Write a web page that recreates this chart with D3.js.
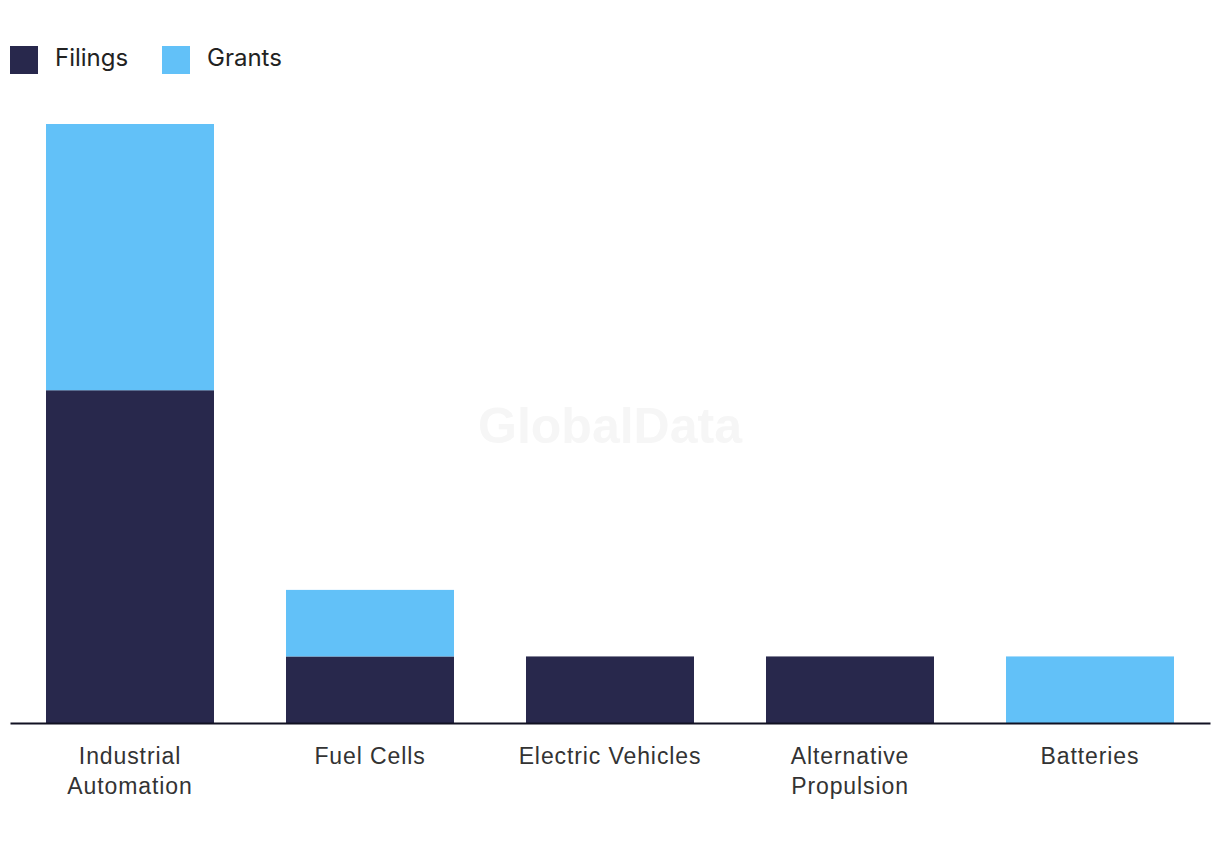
<!DOCTYPE html>
<html><head><meta charset="utf-8">
<script src="https://cdn.jsdelivr.net/npm/d3@7"></script>
<style>body{margin:0;background:#fff;} svg{display:block;font-family:Inter, "Noto Sans", sans-serif;}</style>
</head><body>
<svg id="c" width="1220" height="850"></svg>
<script>
const categories = ["Industrial Automation","Fuel Cells","Electric Vehicles","Alternative Propulsion","Batteries"];
const labelLines = [["Industrial","Automation"],["Fuel Cells"],["Electric Vehicles"],["Alternative","Propulsion"],["Batteries"]];
const filings = [5,1,1,1,0];
const grants = [4,1,0,0,1];
const seriesNames = ["Filings","Grants"];
const colors = ["#28284c","#62c1f8"];

const svg = d3.select("#c");
const x = d3.scaleBand().domain(categories).range([10,1210]).paddingInner(0.3).paddingOuter(0.15);
const y = d3.scaleLinear().domain([0,9]).range([723,124]);

svg.append("text").attr("x",610).attr("y",443).attr("text-anchor","middle")
  .attr("font-family","Liberation Sans, Arial, sans-serif").attr("font-weight","bold")
  .attr("font-size",50).attr("fill","#f6f6f6").text("GlobalData");

const data = categories.map((c,i)=>({c, filings:filings[i], grants:grants[i]}));
const stack = d3.stack().keys(["filings","grants"])(data);
stack.forEach((s,k)=>{
  svg.append("g").selectAll("rect").data(s.filter(d=>d[1]-d[0]>0)).join("rect")
    .attr("x",d=>x(d.data.c)).attr("width",x.bandwidth())
    .attr("y",d=>y(d[1])).attr("height",d=>y(d[0])-y(d[1]))
    .attr("fill",colors[k]);
});

const ax = svg.append("g").attr("transform","translate(0,723)").call(d3.axisBottom(x).tickSize(0).tickFormat(""));
ax.select(".domain").attr("stroke","#111122").attr("stroke-width",2);
ax.selectAll(".tick").each(function(d,i){
  const t = d3.select(this).append("text").attr("text-anchor","middle").attr("fill","#333")
    .attr("font-size",23).attr("letter-spacing",0.9);
  labelLines[i].forEach((l,j)=>t.append("tspan").attr("x",0).attr("y",41+j*30).text(l));
});

const leg = svg.append("g");
seriesNames.forEach((n,i)=>{
  const lx = [10,162][i];
  leg.append("rect").attr("x",lx).attr("y",46).attr("width",28).attr("height",28).attr("fill",colors[i]);
  leg.append("text").attr("x",lx+45).attr("y",66).attr("font-size",24).attr("fill","#222").text(n);
});
</script>
</body></html>
